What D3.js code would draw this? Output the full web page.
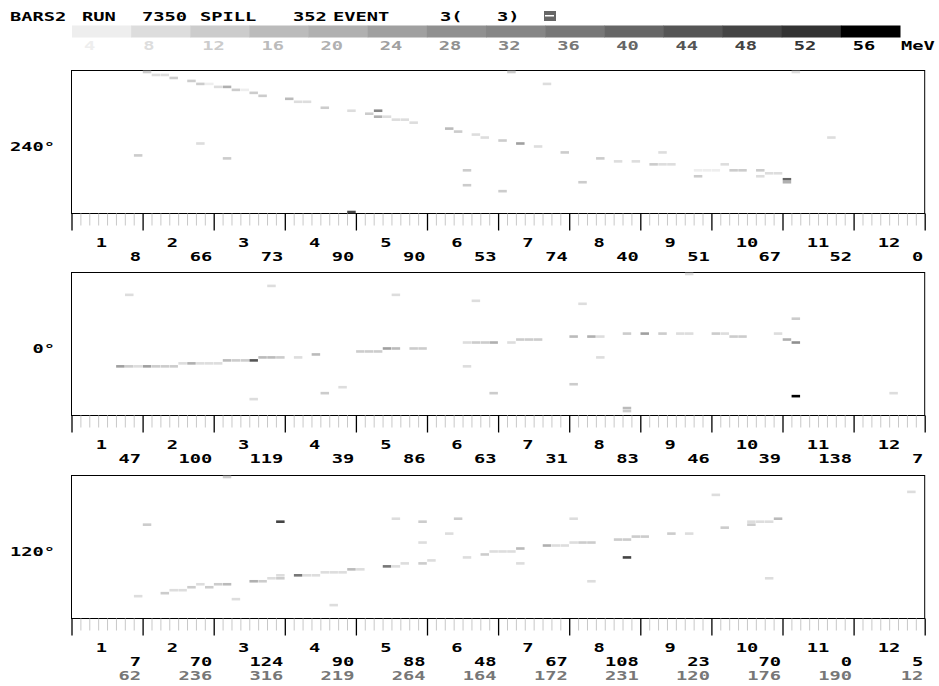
<!DOCTYPE html>
<html><head><meta charset="utf-8">
<script src="https://cdn.jsdelivr.net/npm/d3@7"></script>
<style>body{margin:0;background:#fff}svg{display:block}</style>
</head><body>
<script>
// ---------- data ----------
const titleTokens = ["BARS2","RUN","7350","SPILL","352","EVENT","3(","3)"];
const energyTicks = [4,8,12,16,20,24,28,32,36,40,44,48,52,56];
const energyColors = ["#eeeeee","#dddddd","#cccccc","#bbbbbb","#b0b0b0","#a0a0a0","#909090","#868686","#777777","#666666","#555555","#444444","#333333","#000000"];
const energyUnit = "MeV";
const modules = ["1","2","3","4","5","6","7","8","9","10","11","12"];
const panelAngles = ["240°","0°","120°"];
const counts240 = [8,66,73,90,90,53,74,40,51,67,52,0];
const counts0 = [47,100,119,39,86,63,31,83,46,39,138,7];
const counts120 = [7,70,124,90,88,48,67,108,23,70,0,5];
const counts120b = [62,236,316,219,264,164,172,231,120,176,190,12];
// hits: [strip, time row, energy MeV]
const hits240 = [
 [8,0,13],[9,1,9],[10,1,9],[11,2,13],[13,3,13],[14,4,13],[15,4,6],[16,5,9],[17,5,21],
 [18,6,13],[19,6,6],[20,7,13],[21,8,13],[24,9,17],[25,10,9],[26,10,9],[28,12,13],
 [31,13,9],[33,14,13],[34,13,33],[34,15,21],[35,15,9],[36,16,9],[37,16,9],[38,17,9],
 [42,19,17],[43,20,13],[7,28,13],[14,24,9],[17,29,13],[44,33,13],[44,38,13],[31,47,49],
 [49,0,13],[81,0,9],[53,4,9],[45,21,9],[46,22,9],[48,23,13],[50,24,25],[52,25,9],
 [55,27,13],[59,29,13],[61,30,9],[63,30,9],[65,31,13],[66,31,9],[67,31,9],[66,27,9],
 [70,33,5],[71,33,5],[72,33,5],[70,35,13],[73,31,9],[74,33,13],[75,33,13],[77,33,13],
 [77,35,9],[78,34,9],[79,34,9],[80,36,41],[80,37,21],[57,37,13],[48,40,13],[85,22,9]
];
const hits0 = [
 [6,7,9],[22,4,9],[36,7,9],[5,31,25],[6,31,13],[7,31,9],[8,31,25],[9,31,13],[10,31,13],[11,31,13],
 [12,30,9],[13,30,21],[14,30,9],[15,30,9],[16,30,9],[17,29,17],[18,29,13],[19,29,13],[20,29,45],
 [21,28,17],[22,28,17],[23,28,13],[25,28,9],[27,27,17],[32,26,13],[33,26,13],[34,26,13],
 [35,25,25],[36,25,17],[38,25,13],[39,25,13],[20,42,9],[28,40,13],[30,38,9],[44,23,9],[44,31,9],
 [45,9,9],[57,10,9],[69,0,9],[45,23,13],[46,23,13],[47,23,21],[49,23,9],[50,22,13],[51,22,13],
 [52,22,13],[56,21,17],[58,21,21],[59,21,9],[59,28,9],[62,20,13],[64,20,25],[66,20,13],
 [68,20,9],[69,20,9],[72,20,13],[73,20,9],[74,21,13],[75,21,13],[79,20,9],[80,22,21],
 [81,23,29],[81,15,13],[81,41,57],[56,37,13],[47,40,13],[62,45,17],[62,46,13],[92,40,9]
];
const hits120 = [
 [17,0,13],[8,16,13],[23,15,49],[36,14,9],[39,15,13],[39,22,9],[42,19,9],[43,14,13],[44,27,9],
 [39,29,13],[40,28,9],[37,29,9],[35,30,37],[36,30,9],[31,31,17],[32,31,9],[28,32,9],[29,32,9],
 [30,32,9],[25,33,37],[26,33,9],[27,33,9],[23,33,9],[23,34,13],[22,34,9],[20,35,21],[21,35,13],
 [18,41,9],[16,36,13],[17,36,17],[15,37,13],[14,36,9],[13,37,13],[11,38,9],[12,38,9],[10,39,13],
 [7,40,9],[29,43,9],
 [94,5,9],[72,6,9],[56,14,9],[79,14,17],[76,15,9],[77,15,9],[78,15,9],[76,16,13],[73,17,13],
 [67,19,13],[69,19,9],[63,20,13],[64,20,13],[61,21,13],[62,21,13],[62,27,49],[56,22,9],
 [57,22,13],[58,22,13],[53,23,21],[54,23,9],[55,23,9],[50,24,17],[47,25,9],[48,25,9],[49,25,9],
 [46,26,13],[50,29,9],[58,35,9],[78,34,9]
];

// ---------- layout ----------
const W = 939, H = 686;
const FONT = "'DejaVu Sans Mono', monospace";
const SX = 1.56;
const svg = d3.select("body").append("svg").attr("width", W).attr("height", H);

function txt(x, y, s, anchor, color) {
  svg.append("text")
    .attr("transform", `translate(${x},${y}) scale(${SX},1)`)
    .attr("text-anchor", anchor || "start")
    .attr("font-family", FONT).attr("font-weight", "bold").attr("font-size", 12)
    .attr("fill", color || "#000")
    .text(s);
}

// title
const titleX = [10,82,142,200,293,333,440,497];
titleTokens.forEach((t,i) => txt(titleX[i], 20.5, t));
svg.append("rect").attr("x",544).attr("y",11).attr("width",12).attr("height",10).attr("fill","#666");
svg.append("rect").attr("x",545).attr("y",15).attr("width",9).attr("height",1.5).attr("fill","#fff");

// colour bar
const color = d3.scaleThreshold().domain(energyTicks.slice(1)).range(energyColors);
const cb = d3.scaleBand().domain(energyTicks).range([72, 900]);
svg.append("g").selectAll("rect").data(energyTicks).join("rect")
  .attr("x", d => cb(d)).attr("y", 25.5).attr("width", cb.bandwidth()+0.5).attr("height", 12)
  .attr("fill", (d,i) => energyColors[i]);
energyTicks.forEach((d,i) => txt(cb(d) + 12, 49.5, String(d), "start", energyColors[i]));
txt(901, 50, energyUnit);

// panels
const x = d3.scaleLinear().domain([0,96]).range([71.5, 924.7]);
const panels = [
  {top:70.5, hits:hits240, counts:[counts240]},
  {top:272.5, hits:hits0, counts:[counts0]},
  {top:475.5, hits:hits120, counts:[counts120, counts120b]}
];
const PH = 143;
panels.forEach((p, pi) => {
  const y = d3.scaleLinear().domain([0,48]).range([p.top, p.top + PH]);
  const bottom = p.top + PH;
  // frame
  svg.append("rect").attr("x", x(0)).attr("y", p.top).attr("width", x(96)-x(0)).attr("height", PH)
    .attr("fill", "#fff").attr("stroke", "#000").attr("stroke-width", 1);
  // minor ticks
  const minor = svg.append("g").attr("transform", `translate(0,${bottom})`)
    .call(d3.axisBottom(x).tickValues(d3.range(1,96).filter(i => i % 8)).tickSize(12).tickFormat(""));
  minor.select(".domain").remove();
  minor.selectAll("line").attr("stroke", "#c8c8c8");
  const major = svg.append("g").attr("transform", `translate(0,${bottom})`)
    .call(d3.axisBottom(x).tickValues(d3.range(0,97,8)).tickSize(17).tickFormat(""));
  major.select(".domain").remove();
  major.selectAll("line").attr("stroke", "#000").attr("stroke-width", 1.3);
  // hits
  svg.append("g").selectAll("rect").data(p.hits).join("rect")
    .attr("x", d => x(d[0]) + 0.2).attr("width", d => x(d[0]+1) - x(d[0]) - 0.4)
    .attr("y", d => y(d[1]) + 0.2).attr("height", 2.6)
    .attr("fill", d => color(d[2]));
  // angle label
  txt(55, p.top + PH/2 + 9, panelAngles[pi], "end");
  // module numbers
  modules.forEach((m, i) => {
    const cx = (x(i*8) + x(i*8+8)) / 2;
    txt(cx - 11.3, bottom + 33.3, m, "start");
  });
  // counts
  p.counts.forEach((arr, k) => {
    arr.forEach((c, i) => txt(x(i*8+8) - 1.5, bottom + 47 + k*14.5, String(c), "end", k ? "#777" : "#000"));
  });
});
</script>
</body></html>
